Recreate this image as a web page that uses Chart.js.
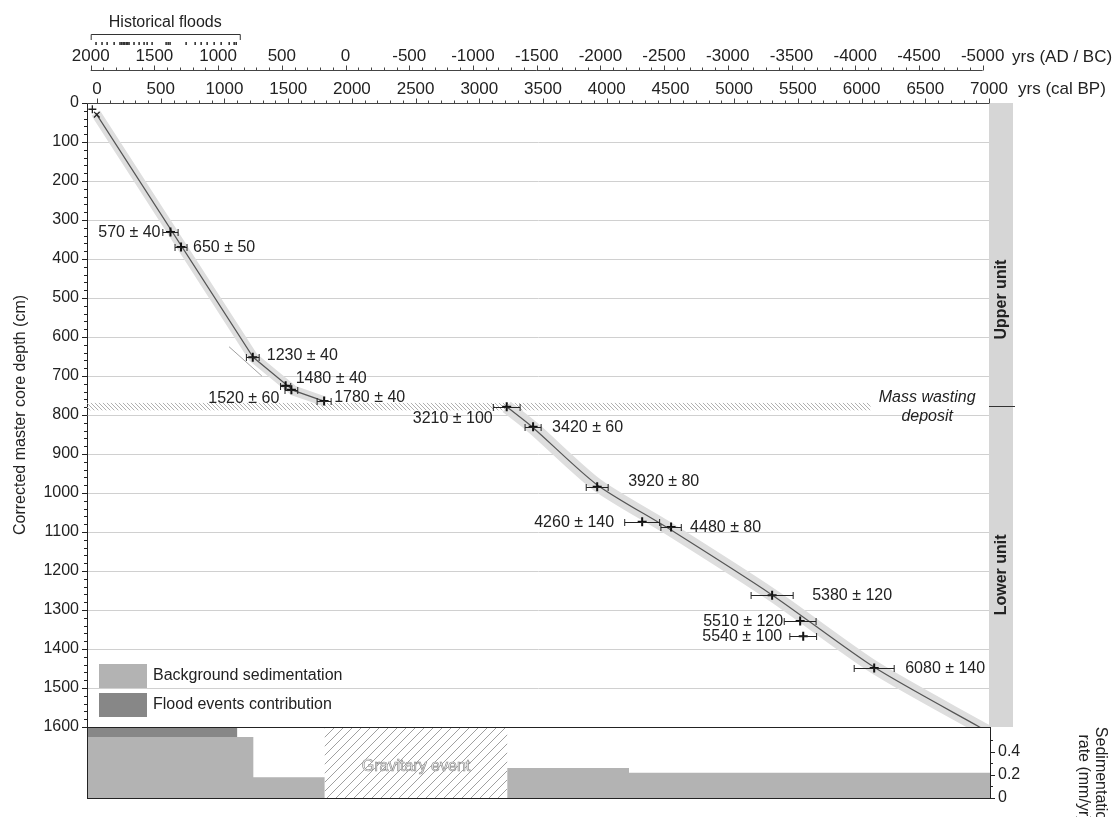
<!DOCTYPE html>
<html>
<head>
<meta charset="utf-8">
<script src="https://cdn.jsdelivr.net/npm/chart.js@4.4.0/dist/chart.umd.min.js"></script>
<style>
html, body { margin: 0; padding: 0; background: #fff; }
#wrap { position: relative; width: 1114px; height: 817px; }
#wrap canvas { position: absolute; left: 0; top: 0; }
</style>
</head>
<body>
<div id="wrap">
	<canvas id="ageChart" width="1114" height="817"></canvas>
	<canvas id="rateChart" width="1114" height="817"></canvas>
</div>
<script>
// dated samples: label, calibrated age (cal BP), error (yr), corrected depth (cm)
var dateLabels = ['570 ± 40', '650 ± 50', '1230 ± 40', '1480 ± 40', '1520 ± 60', '1780 ± 40', '3210 ± 100', '3420 ± 60',
	'3920 ± 80', '4260 ± 140', '4480 ± 80', '5380 ± 120', '5510 ± 120', '5540 ± 100', '6080 ± 140'];
var dateAges = [576, 659, 1222, 1480, 1525, 1782, 3215, 3422, 3925, 4278, 4505, 5298, 5518, 5542, 6099];
var dateErrors = [60, 47, 50, 40, 50, 55, 105, 63, 86, 137, 80, 165, 125, 105, 157];
var dateDepths = [331, 369, 652, 725, 735, 764, 779, 830, 984, 1074, 1087, 1262, 1328, 1367, 1449];

// surface markers (top of core)
var surfaceAges = [-37, -2];
var surfaceDepths = [16, 30];

// age-depth model, upper and lower units
var upperModelAges = [-10, 1225, 1540, 1785];
var upperModelDepths = [26, 652, 737, 765];
var lowerModelAges = [3215, 3420, 3920, 4480, 5300, 6100, 6925, 7050];
var lowerModelDepths = [779, 832, 978, 1090, 1262, 1447, 1600, 1622];
var fitLineAges = [1036, 1293];
var fitLineDepths = [625, 700];

// axis ticks
var calBPTicks = [0, 500, 1000, 1500, 2000, 2500, 3000, 3500, 4000, 4500, 5000, 5500, 6000, 6500, 7000];
var adbcTicks = [2000, 1500, 1000, 500, 0, -500, -1000, -1500, -2000, -2500, -3000, -3500, -4000, -4500, -5000];

// historical floods (yr AD)
var floodYears = [1958, 1911, 1871, 1816, 1770, 1757, 1745, 1733, 1720, 1710, 1699, 1660, 1620, 1581, 1557, 1518,
	1408, 1392, 1377, 1251, 1180, 1133, 1086, 1031, 976, 913, 874, 858];
var floodPeriod = [2000, 830];

// sedimentation rate (mm/yr), steps start at the given age (cal BP)
var bgAgesUpper = [-79, 1225, 1785];
var bgRatesUpper = [0.53, 0.18, 0.18];
var bgAgesLower = [3215, 4170, 7000];
var bgRatesLower = [0.26, 0.22, 0.22];
var floodAges = [-79, 1100];
var floodRates = [0.8, 0.8];
var gravitaryEvent = [1785, 3215];

// units and mass wasting deposit (depth cm)
var unitNames = ['Upper unit', 'Lower unit'];
var unitCentres = [504, 1210];
var unitBoundary = 776;
var massWasting = [769, 788];

var FONT = "'Liberation Sans', Arial, sans-serif";
var BG_COLOR = '#b3b3b3';
var FLOOD_COLOR = '#878787';
Chart.defaults.font.family = FONT;
Chart.defaults.color = '#222';

// label placement, px from the point
var labelDx = [-10, 12, 14, 10, -12, 10, -14, 19, 31, -28, 19, 40, -17, -21, 31];
var labelDy = [0, 0, -2, -8, 8, -4, 11, 0, -6, 0, 0, 0, 0, 0, 0];

function pts(xs, ys) {
	return xs.map(function(v, i) { return {x: v, y: ys[i]}; });
}

function makeHatch(ctx, size, color, dir) {
	var c = document.createElement('canvas');
	c.width = size; c.height = size;
	var g = c.getContext('2d');
	g.strokeStyle = color;
	g.lineWidth = 1;
	g.beginPath();
	if (dir === '/') {
		g.moveTo(0, size); g.lineTo(size, 0);
		g.moveTo(-1, 1); g.lineTo(1, -1);
		g.moveTo(size - 1, size + 1); g.lineTo(size + 1, size - 1);
	} else {
		g.moveTo(0, 0); g.lineTo(size, size);
		g.moveTo(-1, size - 1); g.lineTo(1, size + 1);
		g.moveTo(size - 1, -1); g.lineTo(size + 1, 1);
	}
	g.stroke();
	return ctx.createPattern(c, 'repeat');
}

function hline(ctx, x0, x1, y) {
	ctx.beginPath(); ctx.moveTo(x0, y); ctx.lineTo(x1, y); ctx.stroke();
}
function vline(ctx, x, y0, y1) {
	ctx.beginPath(); ctx.moveTo(x, y0); ctx.lineTo(x, y1); ctx.stroke();
}

//==============================================================
//						AGE-DEPTH CHART
//==============================================================
var ageDecor = {
	id: 'ageDecor',
	beforeDatasetsDraw: function(chart) {
		var ctx = chart.ctx, a = chart.chartArea, x = chart.scales.x, y = chart.scales.y;
		ctx.save();
		// mass wasting deposit
		var y0 = y.getPixelForValue(massWasting[0]), y1 = y.getPixelForValue(massWasting[1]);
		ctx.fillStyle = makeHatch(ctx, 4, '#b0b0b0', '\\');
		ctx.fillRect(a.left, y0, x.getPixelForValue(6070) - a.left, y1 - y0);
		ctx.restore();
	},
	afterDatasetsDraw: function(chart) {
		var ctx = chart.ctx, x = chart.scales.x, y = chart.scales.y;
		ctx.save();
		ctx.strokeStyle = '#222';
		ctx.lineWidth = 1;
		ctx.font = '16px ' + FONT;
		ctx.fillStyle = '#222';
		ctx.textBaseline = 'middle';
		dateAges.forEach(function(age, i) {
			var py = Math.round(y.getPixelForValue(dateDepths[i])) + 0.5;
			var xl = x.getPixelForValue(age - dateErrors[i]);
			var xr = x.getPixelForValue(age + dateErrors[i]);
			ctx.beginPath();
			ctx.moveTo(xl, py); ctx.lineTo(xr, py);
			ctx.moveTo(xl, py - 3.5); ctx.lineTo(xl, py + 3.5);
			ctx.moveTo(xr, py - 3.5); ctx.lineTo(xr, py + 3.5);
			ctx.stroke();
			var px = x.getPixelForValue(age);
			ctx.textAlign = labelDx[i] < 0 ? 'right' : 'left';
			ctx.fillText(dateLabels[i], px + labelDx[i], py + labelDy[i]);
		});
		ctx.restore();
	},
	afterDraw: function(chart) {
		var ctx = chart.ctx, a = chart.chartArea;
		var x = chart.scales.x, x2 = chart.scales.x2, y = chart.scales.y;
		var v, p;
		ctx.save();

		// unit column
		ctx.fillStyle = '#d6d6d6';
		ctx.fillRect(a.right, a.top, 24, a.bottom - a.top);
		ctx.strokeStyle = '#333';
		ctx.lineWidth = 1;
		hline(ctx, a.right, a.right + 26, Math.round(y.getPixelForValue(unitBoundary)) + 0.5);
		ctx.fillStyle = '#222';
		ctx.font = 'bold 16px ' + FONT;
		ctx.textAlign = 'center';
		ctx.textBaseline = 'middle';
		unitNames.forEach(function(n, i) {
			ctx.save();
			ctx.translate(a.right + 13, y.getPixelForValue(unitCentres[i]));
			ctx.rotate(-Math.PI / 2);
			ctx.fillText(n, 0, 0);
			ctx.restore();
		});

		// top axis, cal BP
		ctx.strokeStyle = '#444';
		var ty = a.top + 0.5;
		hline(ctx, a.left, a.right, ty);
		for (v = 0; v <= 7000; v += 100) {
			p = Math.round(x.getPixelForValue(v)) + 0.5;
			vline(ctx, p, ty, ty - (v % 500 === 0 ? 5 : 3));
		}
		// top axis, AD / BC
		var ay = Math.round(x2.bottom) + 0.5;
		hline(ctx, x2.getPixelForValue(2000), x2.getPixelForValue(-5000), ay);
		for (v = -5000; v <= 2000; v += 100) {
			p = Math.round(x2.getPixelForValue(v)) + 0.5;
			vline(ctx, p, ay, ay - (v % 500 === 0 ? 5 : 3));
		}
		ctx.font = '17px ' + FONT;
		ctx.textAlign = 'left';
		ctx.fillStyle = '#222';
		ctx.fillText('yrs (cal BP)', a.right + 29, a.top - 14);
		ctx.fillText('yrs (AD / BC)', a.right + 23, x2.bottom - 13);

		// left axis ticks
		ctx.strokeStyle = '#222';
		for (v = 0; v <= 1600; v += 20) {
			p = Math.round(y.getPixelForValue(v)) + 0.5;
			hline(ctx, a.left, a.left - (v % 100 === 0 ? 5 : 3), p);
		}

		// historical floods
		var bx0 = x2.getPixelForValue(floodPeriod[0]), bx1 = x2.getPixelForValue(floodPeriod[1]);
		ctx.strokeStyle = '#333';
		ctx.beginPath();
		ctx.moveTo(bx0 + 0.5, 40); ctx.lineTo(bx0 + 0.5, 34.5);
		ctx.lineTo(bx1 + 0.5, 34.5); ctx.lineTo(bx1 + 0.5, 40);
		ctx.stroke();
		ctx.lineWidth = 1.6;
		floodYears.forEach(function(yr) {
			var fx = x2.getPixelForValue(yr);
			vline(ctx, fx, 42, 45);
		});
		ctx.font = '16px ' + FONT;
		ctx.textAlign = 'center';
		ctx.fillText('Historical floods', (bx0 + bx1) / 2, 23);

		// mass wasting label
		ctx.font = 'italic 16px ' + FONT;
		ctx.fillText('Mass wasting', x.getPixelForValue(6515), y.getPixelForValue(754));
		ctx.fillText('deposit', x.getPixelForValue(6515), y.getPixelForValue(803));

		// legend for the rate panel
		ctx.fillStyle = BG_COLOR;
		ctx.fillRect(a.left + 12, 664, 48, 24);
		ctx.fillStyle = FLOOD_COLOR;
		ctx.fillRect(a.left + 12, 693, 48, 24);
		ctx.fillStyle = '#222';
		ctx.font = '16px ' + FONT;
		ctx.textAlign = 'left';
		ctx.fillText('Background sedimentation', a.left + 66, 676);
		ctx.fillText('Flood events contribution', a.left + 66, 705);
		ctx.restore();
	}
};

var tickLabel = function(v) { return String(v); };
var setTicks = function(list) {
	return function(s) { s.ticks = list.map(function(v) { return {value: v}; }); };
};

var ageChart = new Chart(document.getElementById('ageChart'), {
	type: 'scatter',
	data: {
		datasets: [{
			data: pts(dateAges, dateDepths),
			pointStyle: 'cross',
			pointRadius: 4.5,
			pointBorderWidth: 2,
			borderColor: '#111'
		}, {
			data: pts(surfaceAges, surfaceDepths),
			pointStyle: ['cross', 'crossRot'],
			pointRadius: 4,
			pointBorderWidth: 1.3,
			borderColor: '#222'
		}, {
			data: pts(upperModelAges, upperModelDepths),
			showLine: true, pointRadius: 0, borderColor: '#555', borderWidth: 1.2
		}, {
			data: pts(lowerModelAges, lowerModelDepths),
			showLine: true, pointRadius: 0, borderColor: '#555', borderWidth: 1.2, tension: 0.25, clip: 0
		}, {
			data: pts(fitLineAges, fitLineDepths),
			showLine: true, pointRadius: 0, borderColor: '#888', borderWidth: 0.8
		}, {
			data: pts(upperModelAges, upperModelDepths),
			showLine: true, pointRadius: 0, borderColor: '#dedede', borderWidth: 10,
			borderJoinStyle: 'round', clip: 0
		}, {
			data: pts(lowerModelAges, lowerModelDepths),
			showLine: true, pointRadius: 0, borderColor: '#dedede', borderWidth: 13,
			borderJoinStyle: 'round', tension: 0.25, clip: 0
		}]
	},
	options: {
		responsive: false,
		animation: false,
		layout: { padding: { left: 0, right: 125, top: 0, bottom: 90 } },
		plugins: { legend: { display: false }, tooltip: { enabled: false } },
		scales: {
			x: {
				type: 'linear', position: 'top', min: -79, max: 7000, weight: 0,
				grid: { display: false, drawTicks: false }, border: { display: false },
				ticks: { autoSkip: false, maxRotation: 0, padding: 3, font: { size: 17 }, callback: tickLabel },
				afterBuildTicks: setTicks(calBPTicks),
				afterFit: function(s) { s.height = 33; }
			},
			x2: {
				type: 'linear', position: 'top', min: 1950 - 7000, max: 1950 + 79, reverse: true, weight: 1,
				grid: { display: false, drawTicks: false }, border: { display: false },
				ticks: { autoSkip: false, maxRotation: 0, padding: 3, font: { size: 17 }, callback: tickLabel },
				afterBuildTicks: setTicks(adbcTicks),
				afterFit: function(s) { s.height = 70; }
			},
			y: {
				type: 'linear', position: 'left', reverse: true, min: 0, max: 1600,
				grid: { color: '#d0d0d0', drawTicks: false },
				border: { display: true, color: '#222' },
				ticks: { stepSize: 100, autoSkip: false, padding: 8, font: { size: 16 }, callback: tickLabel },
				title: { display: true, text: 'Corrected master core depth (cm)', font: { size: 16 },
					padding: { top: 11, bottom: 0 } },
				afterFit: function(s) { s.width = 87; }
			}
		}
	},
	plugins: [ageDecor]
});

//==============================================================
//						SEDIMENTATION RATE
//==============================================================
var rateDecor = {
	id: 'rateDecor',
	beforeDatasetsDraw: function(chart) {
		var ctx = chart.ctx, a = chart.chartArea, x = chart.scales.x;
		ctx.save();
		var g0 = x.getPixelForValue(gravitaryEvent[0]), g1 = x.getPixelForValue(gravitaryEvent[1]);
		ctx.fillStyle = makeHatch(ctx, 9, '#a0a0a0', '/');
		ctx.fillRect(g0, a.top, g1 - g0, a.bottom - a.top);
		ctx.font = '16px ' + FONT;
		ctx.textAlign = 'center';
		ctx.textBaseline = 'middle';
		ctx.fillStyle = '#fff';
		ctx.fillText('Gravitary event', (g0 + g1) / 2, 767);
		ctx.strokeStyle = '#8c8c8c';
		ctx.lineWidth = 0.7;
		ctx.strokeText('Gravitary event', (g0 + g1) / 2, 767);
		ctx.restore();
	},
	afterDraw: function(chart) {
		var ctx = chart.ctx, a = chart.chartArea, y = chart.scales.y;
		ctx.save();
		ctx.strokeStyle = '#222';
		ctx.lineWidth = 1;
		ctx.strokeRect(a.left + 0.5, a.top + 0.5, a.right - a.left, a.bottom - a.top);
		for (var i = 0; i <= 5; i++) {
			var p = Math.round(y.getPixelForValue(i / 10)) + 0.5;
			hline(ctx, a.right, a.right + (i % 2 === 0 ? 5 : 3), p);
		}
		ctx.fillStyle = '#222';
		ctx.font = '16px ' + FONT;
		ctx.textAlign = 'center';
		ctx.textBaseline = 'middle';
		[['Sedimentation', 1100], ['rate (mm/yr)', 1083]].forEach(function(t) {
			ctx.save();
			ctx.translate(t[1], 778);
			ctx.rotate(Math.PI / 2);
			ctx.fillText(t[0], 0, 0);
			ctx.restore();
		});
		ctx.restore();
	}
};

var rateChart = new Chart(document.getElementById('rateChart'), {
	type: 'line',
	data: {
		datasets: [{
			data: pts(floodAges, floodRates),
			pointRadius: 0, borderWidth: 0, backgroundColor: FLOOD_COLOR, fill: { value: 0.53 }
		}, {
			data: pts(bgAgesUpper, bgRatesUpper),
			pointRadius: 0, borderWidth: 0, backgroundColor: BG_COLOR, stepped: 'before', fill: 'origin'
		}, {
			data: pts(bgAgesLower, bgRatesLower),
			pointRadius: 0, borderWidth: 0, backgroundColor: BG_COLOR, stepped: 'before', fill: 'origin'
		}]
	},
	options: {
		responsive: false,
		animation: false,
		layout: { padding: { left: 87, right: 0, top: 727, bottom: 19 } },
		plugins: { legend: { display: false }, tooltip: { enabled: false } },
		scales: {
			x: { type: 'linear', display: false, min: -79, max: 7000 },
			y: {
				type: 'linear', position: 'right', min: 0, max: 0.617,
				grid: { display: false, drawTicks: false }, border: { display: false },
				ticks: { stepSize: 0.2, includeBounds: false, padding: 8, font: { size: 16 },
					callback: function(v) { return v > 0.5 ? '' : String(Math.round(v * 10) / 10); } },
				afterFit: function(s) { s.width = 124; }
			}
		}
	},
	plugins: [rateDecor]
});
</script>
</body>
</html>
